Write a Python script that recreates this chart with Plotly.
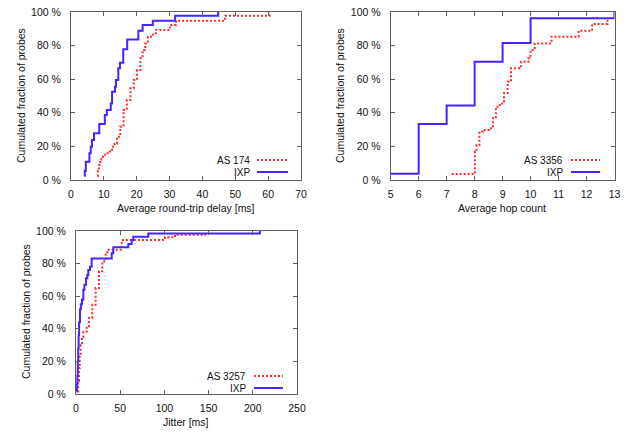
import plotly.graph_objects as go

# ---------------- data ----------------
# Top-left: average round-trip delay [ms] CDF
rtt_as174_x = [7.9, 8.2, 8.5, 8.9, 9.2, 10.4, 11.5, 12.5, 13.3, 14.0, 15.0, 16.0, 17.0, 18.1,
               19.1, 20.1, 21.1, 21.8, 22.6, 23.4, 24.9, 25.9, 30.1, 32.0, 46.9, 60.4]
rtt_as174_y = [2.6, 5.5, 9.0, 12.0, 13.9, 15.9, 16.9, 19.8, 21.8, 25.8, 31.7, 41.7, 47.6, 54.6,
               59.5, 65.5, 72.4, 77.4, 81.3, 85.3, 87.3, 89.3, 92.3, 94.8, 97.8, 100]
rtt_ixp_x = [4.0, 4.2, 4.5, 5.6, 6.0, 6.4, 7.0, 8.6, 10.3, 10.9, 12.1, 12.5, 13.4, 13.7,
             14.4, 14.9, 15.9, 17.1, 20.5, 21.8, 24.9, 31.7, 44.8]
rtt_ixp_y = [2.6, 5.4, 10.9, 15.9, 19.8, 23.8, 27.8, 33.3, 38.7, 41.7, 45.6, 52.6, 55.5, 59.5,
             66.5, 69.8, 77.8, 83.7, 88.9, 92.3, 94.8, 97.8, 100]

# Top-right: average hop count CDF
hop_as3356_x = [7.18, 8.01, 8.07, 8.17, 8.31, 8.52, 8.66, 8.76, 8.9, 9.05, 9.18, 9.3, 9.66,
                9.92, 10.0, 10.15, 10.75, 11.72, 12.2, 12.75]
hop_as3356_y = [3.6, 16.9, 20.8, 28.8, 29.8, 30.8, 36.7, 43.6, 45.6, 51.6, 58.5, 66.5, 70.4,
                72.4, 77.4, 81.3, 85.3, 88.9, 92.9, 95.8]
hop_ixp_x = [5.0, 6.0, 7.0, 8.0, 9.0, 10.0, 13.0]
hop_ixp_y = [3.7, 33.3, 44.4, 70.4, 81.5, 96.3, 100]

# Bottom-left: jitter [ms] CDF
jit_as3257_x = [1.5, 2.5, 3.4, 4.3, 5.3, 6.8, 8.3, 12.1, 14.7, 18.4, 22.2, 26.0, 29.8, 33.6,
                35.4, 51.7, 100.7, 112.0, 146.0]
jit_as3257_y = [1.6, 8.0, 16.0, 23.0, 30.0, 35.0, 38.4, 41.5, 46.6, 54.8, 65.0, 75.3, 81.4,
                85.5, 88.5, 94.5, 96.1, 97.7, 100]
jit_ixp_x = [0.5, 1.0, 1.5, 2.0, 2.5, 3.0, 3.5, 4.5, 5.5, 6.8, 8.3, 9.5, 11.3, 12.8, 13.9,
             15.8, 17.7, 40.4, 42.2, 59.2, 63.0, 64.8, 81.8, 208.0]
jit_ixp_y = [1.6, 6.0, 11.0, 20.0, 28.0, 36.0, 44.0, 52.0, 55.0, 58.0, 64.0, 67.0, 71.0, 73.0,
             76.0, 78.0, 83.2, 86.3, 90.0, 92.0, 94.5, 96.5, 98.4, 100]

y_ticks = [0, 20, 40, 60, 80, 100]
y_ticktext = ["0 %", "20 %", "40 %", "60 %", "80 %", "100 %"]

# ---------------- style ----------------
W, H = 640, 446
RED = "#ff2a2a"
BLUE = "#4424ff"
FRAME = "#606060"
FONT = "Liberation Sans, Arial, Helvetica, sans-serif"
FS = 10.5
DOTS = "2px,2px"


def px_x(p):
    return p / W


def px_y(p):
    return 1 - p / H


fig = go.Figure()

def add_pair(xa, ya, red_x, red_y, blue_x, blue_y):
    fig.add_trace(go.Scatter(x=red_x, y=red_y, mode="lines", line_shape="hv",
                             line=dict(color=RED, width=2, dash=DOTS),
                             xaxis=xa, yaxis=ya, showlegend=False))
    fig.add_trace(go.Scatter(x=blue_x, y=blue_y, mode="lines", line_shape="hv",
                             line=dict(color=BLUE, width=2),
                             xaxis=xa, yaxis=ya, showlegend=False))

add_pair("x", "y", rtt_as174_x, rtt_as174_y, rtt_ixp_x, rtt_ixp_y)
add_pair("x2", "y2", hop_as3356_x, hop_as3356_y, hop_ixp_x, hop_ixp_y)
add_pair("x3", "y3", jit_as3257_x, jit_as3257_y, jit_ixp_x, jit_ixp_y)

axis_common = dict(showline=True, linecolor=FRAME, linewidth=1, mirror="ticks",
                   ticks="inside", ticklen=4, tickcolor=FRAME, showgrid=False,
                   zeroline=False, automargin=False,
                   tickfont=dict(family=FONT, size=FS, color="#111"))

# plot frames in pixels: (left, right, top, bottom)
frames = {
    "1": (71, 301, 12, 180),
    "2": (390.7, 614.5, 12, 180),
    "3": (76, 297, 231, 394),
}

layout = dict(width=W, height=H, margin=dict(l=0, r=0, t=0, b=0, autoexpand=False),
              paper_bgcolor="white", plot_bgcolor="white", showlegend=False)

xranges = {"1": [0, 70], "2": [5, 13], "3": [0, 250]}
xdticks = {"1": 10, "2": 1, "3": 50}

for k, (l, r, t, b) in frames.items():
    suffix = "" if k == "1" else k
    layout["xaxis" + suffix] = dict(axis_common, domain=[px_x(l), px_x(r)],
                                    range=xranges[k], dtick=xdticks[k], tick0=0,
                                    anchor="y" + suffix, ticklabelstandoff=4)
    layout["yaxis" + suffix] = dict(axis_common, domain=[px_y(b), px_y(t)],
                                    range=[0, 100], tickvals=y_ticks, ticktext=y_ticktext,
                                    anchor="x" + suffix, ticklabelstandoff=7)

fig.update_layout(**layout)

# axis titles
titles = [
    ("Average round-trip delay [ms]", 186, 208, 0),
    ("Average hop count", 502, 208, 0),
    ("Jitter [ms]", 186, 422, 0),
    ("Cumulated fraction of probes", 21, 96, -90),
    ("Cumulated fraction of probes", 340, 96, -90),
    ("Cumulated fraction of probes", 26, 312, -90),
]
for text, cx, cy, ang in titles:
    fig.add_annotation(text=text, x=px_x(cx), y=px_y(cy), xref="paper", yref="paper",
                       showarrow=False, textangle=ang, xanchor="center", yanchor="middle",
                       font=dict(family=FONT, size=FS, color="#111"))

# gnuplot-style keys (text right-aligned, sample to the right)
keys = [
    ("AS 174", 251, 160, 257, 287, RED, DOTS),
    ("IXP", 251, 172, 257, 288, BLUE, "solid"),
    ("AS 3356", 564, 160, 571, 600, RED, DOTS),
    ("IXP", 564, 172, 571, 600, BLUE, "solid"),
    ("AS 3257", 247, 376, 254, 283, RED, DOTS),
    ("IXP", 247, 388, 254, 283, BLUE, "solid"),
]
for text, tx, ty, x0, x1, col, dash in keys:
    fig.add_annotation(text=text, x=px_x(tx), y=px_y(ty), xref="paper", yref="paper",
                       showarrow=False, xanchor="right", yanchor="middle", height=10,
                       borderpad=0,
                       font=dict(family=FONT, size=10, color="#111"))
    fig.add_shape(type="line", xref="paper", yref="paper",
                  x0=px_x(x0), x1=px_x(x1), y0=px_y(ty), y1=px_y(ty),
                  line=dict(color=col, width=2, dash=dash))

fig.write_html("out.html", config={"displayModeBar": False},
               post_script="document.body.style.margin='0';document.body.style.overflow='hidden';")
